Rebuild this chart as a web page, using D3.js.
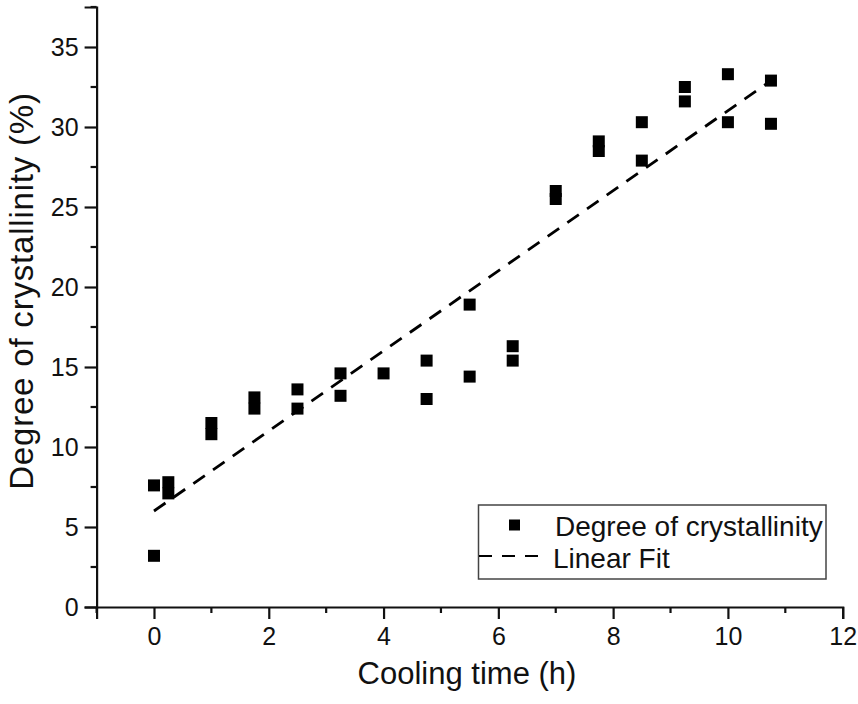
<!DOCTYPE html>
<html>
<head>
<meta charset="utf-8">
<script src="https://cdn.jsdelivr.net/npm/d3@7"></script>
<style>
    body { margin: 0; background: #fff; }
    svg { font-family: Arial, 'Liberation Sans', sans-serif; }
</style>
</head>
<body>
<svg></svg>
<script>
let width = 858
let height = 704

let coolingTime = [0, 0, 0.25, 0.25, 1, 1, 1.75, 1.75, 2.5, 2.5, 3.25, 3.25, 4, 4.75, 4.75,
    5.5, 5.5, 6.25, 6.25, 7, 7, 7.75, 7.75, 8.5, 8.5, 9.25, 9.25, 10, 10, 10.75, 10.75]
let crystallinity = [7.6, 3.2, 7.8, 7.1, 11.5, 10.8, 13.1, 12.4, 13.6, 12.4, 14.6, 13.2, 14.6, 15.4, 13.0,
    18.9, 14.4, 16.3, 15.4, 26.0, 25.5, 29.1, 28.5, 30.3, 27.9, 32.5, 31.6, 33.3, 30.3, 32.9, 30.2]
let fitTime = [0, 10.75]
let fitValue = [6.0, 32.9]
let xTicks = [0, 2, 4, 6, 8, 10, 12]
let yTicks = [0, 5, 10, 15, 20, 25, 30, 35]
let legendLabels = ['Degree of crystallinity', 'Linear Fit']

let svg = d3.select('svg')
    .attr('width', width)
    .attr('height', height)

let x = d3.scaleLinear().domain([-1, 12]).range([96.6, 842.7])
let y = d3.scaleLinear().domain([0, 37.5]).range([607, 7])

let points = coolingTime.map((t, i) => ({ t: t, v: crystallinity[i] }))
let fit = fitTime.map((t, i) => ({ t: t, v: fitValue[i] }))

// axes: major ticks labelled, minor ticks in between
let xMinor = d3.range(-1, 12.01, 1).filter(d => !xTicks.includes(d))
let yMinor = d3.range(0, 37.51, 2.5).filter(d => !yTicks.includes(d))

let xAxis = svg.append('g').attr('transform', `translate(0,${y(0)})`)
xAxis.call(d3.axisBottom(x).tickValues(xTicks).tickSize(12).tickPadding(8).tickFormat(d3.format('d')))
xAxis.append('g').attr('class', 'minor').selectAll('line')
    .data(xMinor).enter()
    .append('line')
    .attr('x1', d => x(d)).attr('x2', d => x(d))
    .attr('y1', 0).attr('y2', 6)

let yAxis = svg.append('g').attr('transform', `translate(${x(-1)},0)`)
yAxis.call(d3.axisLeft(y).tickValues(yTicks).tickSize(12).tickPadding(6).tickFormat(d3.format('d')))
yAxis.append('g').attr('class', 'minor').selectAll('line')
    .data(yMinor).enter()
    .append('line')
    .attr('y1', d => y(d)).attr('y2', d => y(d))
    .attr('x1', 0).attr('x2', -6)

svg.selectAll('.domain').attr('stroke', '#111').attr('stroke-width', 2.2)
svg.selectAll('.tick line, .minor line').attr('stroke', '#111').attr('stroke-width', 2.2)
svg.selectAll('.tick text')
    .style('font-size', '25px')
    .style('font-family', 'Arial, "Liberation Sans", sans-serif')
    .attr('fill', '#111')

// fit line
svg.append('path')
    .datum(fit)
    .attr('fill', 'none')
    .attr('stroke', '#000')
    .attr('stroke-width', 2.8)
    .attr('stroke-dasharray', '14,10')
    .attr('d', d3.line().x(d => x(d.t)).y(d => y(d.v)))

// data squares
let size = 12
svg.append('g').selectAll('rect')
    .data(points).enter()
    .append('rect')
    .attr('x', d => x(d.t) - size / 2)
    .attr('y', d => y(d.v) - size / 2)
    .attr('width', size)
    .attr('height', size)
    .attr('fill', '#000')

// axis titles
svg.append('text')
    .attr('x', 467)
    .attr('y', 684)
    .attr('text-anchor', 'middle')
    .style('font-size', '31px')
    .attr('fill', '#111')
    .text('Cooling time (h)')

svg.append('text')
    .attr('transform', 'translate(33,291) rotate(-90)')
    .attr('text-anchor', 'middle')
    .style('font-size', '33px')
    .style('letter-spacing', '0.8px')
    .attr('fill', '#111')
    .text('Degree of crystallinity (%)')

// legend
let legend = svg.append('g')
legend.append('rect')
    .attr('x', 478.5).attr('y', 505)
    .attr('width', 347.5).attr('height', 74)
    .attr('fill', '#fff')
    .attr('stroke', '#444')
    .attr('stroke-width', 1.5)
legend.append('rect')
    .attr('x', 509).attr('y', 519.5)
    .attr('width', 11).attr('height', 11)
    .attr('fill', '#000')
legend.append('line')
    .attr('x1', 479).attr('x2', 544)
    .attr('y1', 556).attr('y2', 556)
    .attr('stroke', '#000')
    .attr('stroke-width', 2.2)
    .attr('stroke-dasharray', '13,10')
legend.selectAll('text')
    .data(legendLabels).enter()
    .append('text')
    .attr('x', (d, i) => i === 0 ? 555 : 553)
    .attr('y', (d, i) => i === 0 ? 536 : 568)
    .style('font-size', '28px')
    .attr('fill', '#111')
    .text(d => d)
</script>
</body>
</html>
